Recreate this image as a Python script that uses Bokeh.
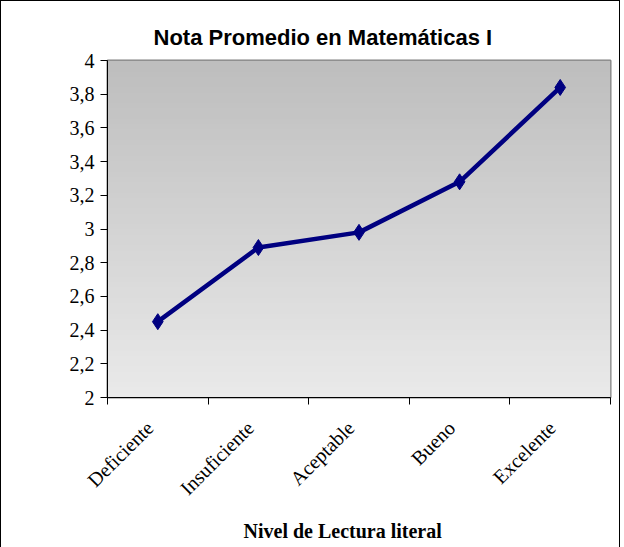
import numpy as np
from bokeh.plotting import figure
from bokeh.models import FixedTicker, Range1d, Title
from bokeh.embed import file_html
from bokeh.resources import INLINE

# ---- data ----
categories = ["Deficiente", "Insuficiente", "Aceptable", "Bueno", "Excelente"]
nota_promedio = [2.45, 2.89, 2.98, 3.28, 3.84]
y_ticks = [2.0, 2.2, 2.4, 2.6, 2.8, 3.0, 3.2, 3.4, 3.6, 3.8, 4.0]
y_tick_labels = ["2", "2,2", "2,4", "2,6", "2,8", "3", "3,2", "3,4", "3,6", "3,8", "4"]
title_text = "Nota Promedio en Matemáticas I"
x_title = "Nivel de Lectura literal"

n = len(categories)
x_pos = [i + 0.5 for i in range(n)]
label_pos = [x - 0.08 for x in x_pos]

p = figure(
    width=620, height=542,
    frame_width=503, frame_height=337,
    x_range=Range1d(0, n), y_range=Range1d(y_ticks[0], y_ticks[-1]),
    output_backend="svg", toolbar_location=None,
    min_border_left=106, min_border_right=9, min_border_top=59, min_border_bottom=144,
)
p.styles = {"border": "1px solid black", "box-sizing": "border-box"}

# background gradient
grad = np.zeros((64, 1), dtype=np.uint32)
view = grad.view(dtype=np.uint8).reshape((64, 1, 4))
vals = np.linspace(234, 190, 64).astype(np.uint8)
view[:, 0, 0] = vals
view[:, 0, 1] = vals
view[:, 0, 2] = vals
view[:, 0, 3] = 255
p.image_rgba(image=[grad], x=0, y=y_ticks[0], dw=n, dh=y_ticks[-1] - y_ticks[0])

p.line(x_pos, nota_promedio, line_color="#000080", line_width=4.5)
p.scatter(x_pos, nota_promedio, marker="diamond", size=16, fill_color="#000080", line_color="#000080")

p.grid.visible = False
p.outline_line_color = "#808080"
p.outline_line_width = 2
p.background_fill_color = "#d8d8d8"

# title
p.title.text = title_text
p.title.text_font = "Liberation Sans"
p.title.text_font_style = "bold"
p.title.text_font_size = "22px"
p.title.text_color = "black"
p.title.align = "left"
p.title.offset = 46
p.title.standoff = 22

# y axis
ya = p.yaxis[0]
ya.ticker = FixedTicker(ticks=y_ticks)
ya.major_label_overrides = {t: l for t, l in zip(y_ticks, y_tick_labels)}
ya.major_label_text_font = "Liberation Serif"
ya.major_label_text_font_size = "20px"
ya.major_label_text_color = "black"
ya.major_tick_out = 7
ya.major_tick_in = 0
ya.minor_tick_line_color = None
ya.axis_line_color = "black"
ya.major_label_standoff = 6

# x axis
xa = p.xaxis[0]
xa.ticker = FixedTicker(ticks=label_pos, minor_ticks=list(range(n + 1)))
xa.major_label_overrides = {x: c for x, c in zip(label_pos, categories)}
xa.major_tick_line_color = None
xa.minor_tick_out = 7
xa.minor_tick_in = 0
xa.minor_tick_line_color = "black"
xa.axis_line_color = "black"
xa.major_label_orientation = np.pi / 4
xa.major_label_text_font = "Liberation Serif"
xa.major_label_text_font_size = "20px"
xa.major_label_text_color = "black"
xa.major_label_standoff = 20

xt = Title(text=x_title, text_font="Liberation Serif", text_font_style="bold",
           text_font_size="20px", text_color="black", align="left", offset=136, standoff=16)
p.add_layout(xt, "below")

open("out.html", "w").write(file_html(p, INLINE))
